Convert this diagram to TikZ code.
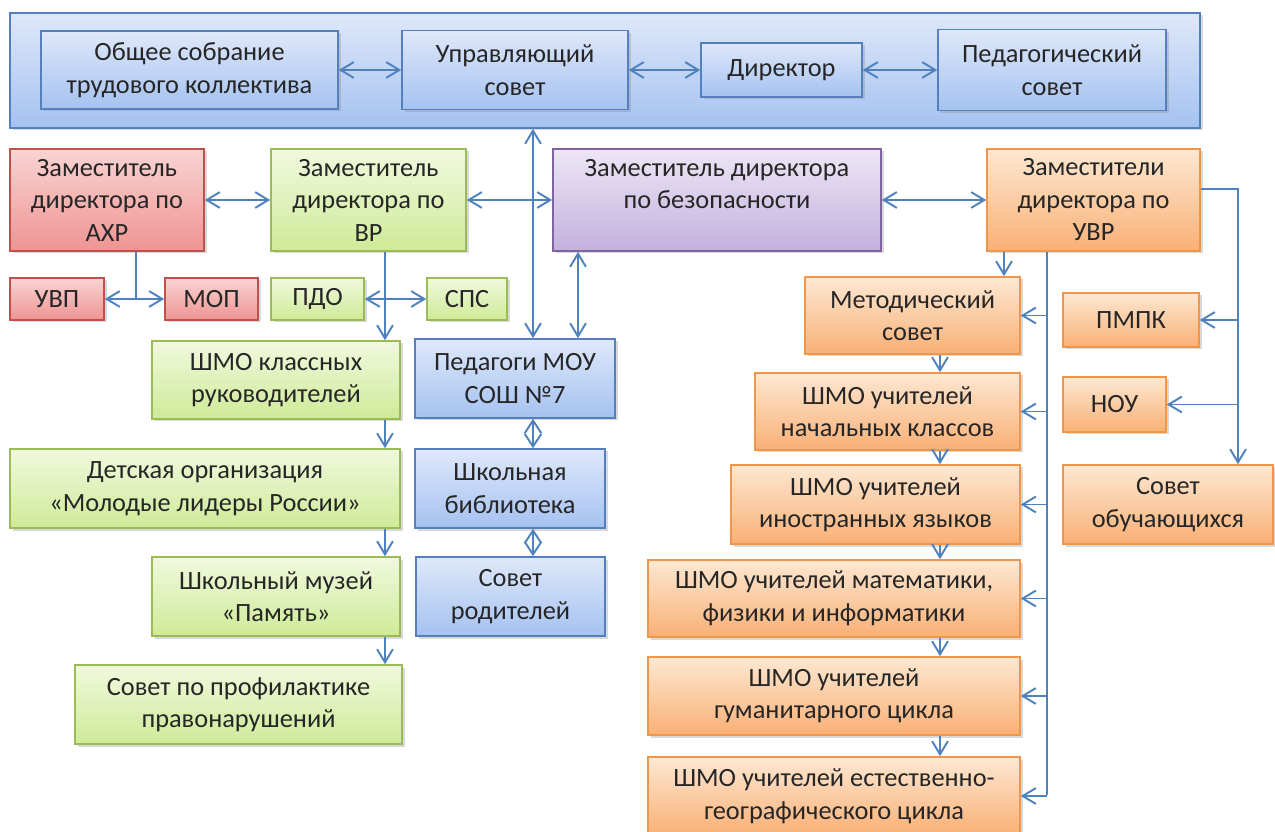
\documentclass[tikz,border=0pt]{standalone}
\usepackage{fontspec}
\setmainfont{Carlito}
\usepackage{tikz}
\usetikzlibrary{arrows.meta, positioning, shadows}
\definecolor{lineblue}{RGB}{79,129,189}
\definecolor{bluetop}{RGB}{222,232,250}
\definecolor{bluebot}{RGB}{165,194,240}
\definecolor{blueedge}{RGB}{86,127,190}
\definecolor{redtop}{RGB}{249,212,210}
\definecolor{redbot}{RGB}{238,148,146}
\definecolor{rededge}{RGB}{192,80,77}
\definecolor{greentop}{RGB}{241,249,222}
\definecolor{greenbot}{RGB}{207,234,152}
\definecolor{greenedge}{RGB}{155,187,89}
\definecolor{purpletop}{RGB}{237,230,245}
\definecolor{purplebot}{RGB}{195,177,222}
\definecolor{purpleedge}{RGB}{128,100,162}
\definecolor{orangetop}{RGB}{253,232,210}
\definecolor{orangebot}{RGB}{249,176,118}
\definecolor{orangeedge}{RGB}{240,150,75}
\tikzset{
  box/.style={rectangle, align=center, inner sep=2pt, line width=0.9pt,
    text=black!85, font=\fontsize{15}{18.5}\selectfont,
    drop shadow={shadow xshift=0.05cm, shadow yshift=-0.05cm, opacity=0.3}},
  bluebox/.style={box, draw=blueedge, top color=bluetop, bottom color=bluebot},
  redbox/.style={box, draw=rededge, top color=redtop, bottom color=redbot},
  greenbox/.style={box, draw=greenedge, top color=greentop, bottom color=greenbot},
  purplebox/.style={box, draw=purpleedge, top color=purpletop, bottom color=purplebot},
  orangebox/.style={box, draw=orangeedge, top color=orangetop, bottom color=orangebot},
  line/.style={color=lineblue, line width=1.1pt},
  arrow/.style={line, -{Straight Barb[length=7.5pt,width=9pt]}},
  biarrow/.style={line, {Straight Barb[length=7.5pt,width=9pt]}-{Straight Barb[length=7.5pt,width=9pt]}},
  diamarrow/.style={line, {Straight Barb[length=7.2pt,width=9.5pt]}-{Straight Barb[length=7.2pt,width=9.5pt]}}
}

\begin{document}
\begin{tikzpicture}
\useasboundingbox (0,0) rectangle (25.5,-16.64);

% top block
\node (verh)       [bluebox, minimum width=23.8cm, minimum height=2.3cm] at (12.1,-1.41) {};
\node (obshee)     [bluebox, minimum width=5.94cm, minimum height=1.56cm] at (3.79,-1.4) {Общее собрание\\трудового коллектива};
\node (upravsovet) [bluebox, minimum width=4.52cm, minimum height=1.58cm] at (10.3,-1.4) {Управляющий\\совет};
\node (direktor)   [bluebox, minimum width=3.22cm, minimum height=1.08cm] at (15.63,-1.4) {Директор};
\node (pedsovet)   [bluebox, minimum width=4.56cm, minimum height=1.62cm] at (21.04,-1.4) {Педагогический\\совет};

% deputies
\node (zamahr) [redbox, minimum width=3.88cm, minimum height=2.04cm] at (2.14,-4.0) {Заместитель\\директора по\\АХР};
\node (zamvr)  [greenbox, minimum width=3.9cm, minimum height=2.04cm] at (7.37,-4.0) {Заместитель\\директора по\\ВР};
\node (zambez) [purplebox, minimum width=6.56cm, minimum height=2.04cm] at (14.34,-4.0) {Заместитель директора\\по безопасности\\~};
\node (zamuvr) [orangebox, minimum width=4.26cm, minimum height=2.04cm] at (21.87,-4.0) {Заместители\\директора по\\УВР};

\node (uvp) [redbox, minimum width=1.88cm, minimum height=0.84cm] at (1.14,-5.98) {УВП};
\node (mop) [redbox, minimum width=1.86cm, minimum height=0.84cm] at (4.23,-5.98) {МОП};
\node (pdo) [greenbox, minimum width=1.86cm, minimum height=0.84cm] at (6.35,-5.98) {ПДО};
\node (sps) [greenbox, minimum width=1.6cm, minimum height=0.84cm] at (9.34,-5.98) {СПС};

% left column
\node (shmokl) [greenbox, minimum width=4.96cm, minimum height=1.56cm] at (5.52,-7.6) {ШМО классных\\руководителей};
\node (detorg) [greenbox, minimum width=7.8cm, minimum height=1.58cm] at (4.1,-9.77) {Детская организация\\«Молодые лидеры России»};
\node (muzei)  [greenbox, minimum width=4.96cm, minimum height=1.58cm] at (5.52,-11.93) {Школьный музей\\«Память»};
\node (profil) [greenbox, minimum width=6.54cm, minimum height=1.58cm] at (4.77,-14.09) {Совет по профилактике\\правонарушений};

% middle column
\node (pedagogi) [bluebox, minimum width=4.0cm, minimum height=1.58cm] at (10.3,-7.57) {Педагоги МОУ\\СОШ №7};
\node (bibl)     [bluebox, minimum width=3.8cm, minimum height=1.58cm] at (10.2,-9.77) {Школьная\\библиотека};
\node (roditeli) [bluebox, minimum width=3.78cm, minimum height=1.58cm] at (10.21,-11.93) {Совет\\родителей};

% right column
\node (metsovet) [orangebox, minimum width=4.3cm, minimum height=1.54cm] at (18.25,-6.31) {Методический\\совет};
\node (shmonach) [orangebox, minimum width=5.3cm, minimum height=1.54cm] at (17.75,-8.23) {ШМО учителей\\начальных классов};
\node (shmoin)   [orangebox, minimum width=5.78cm, minimum height=1.58cm] at (17.51,-10.09) {ШМО учителей\\иностранных языков};
\node (shmomat)  [orangebox, minimum width=7.44cm, minimum height=1.54cm] at (16.68,-11.97) {ШМО учителей математики,\\физики и информатики};
\node (shmogum)  [orangebox, minimum width=7.44cm, minimum height=1.56cm] at (16.68,-13.92) {ШМО учителей\\гуманитарного цикла};
\node (shmoest)  [orangebox, minimum width=7.44cm, minimum height=1.56cm] at (16.68,-15.92) {ШМО учителей естественно-\\географического цикла};

\node (pmpk)     [orangebox, minimum width=2.72cm, minimum height=1.08cm] at (22.62,-6.4) {ПМПК};
\node (nou)      [orangebox, minimum width=2.06cm, minimum height=1.1cm] at (22.29,-8.09) {НОУ};
\node (sovobuch) [orangebox, minimum width=4.2cm, minimum height=1.58cm] at (23.36,-10.09) {Совет\\обучающихся};

% helper lines
\coordinate (ahrline) at (2.72,-5.98);
\coordinate (vrline) at (7.7,0);
\coordinate (midline) at (10.66,0);
\coordinate (bezline) at (11.56,0);
\coordinate (chain) at (18.8,0);
\coordinate (metline) at (20.08,0);
\coordinate (spine) at (20.94,-15.9);
\coordinate (farline) at (24.76,0);

% top connectors
\draw[biarrow] (obshee) -- (upravsovet);
\draw[biarrow] (upravsovet) -- (direktor);
\draw[biarrow] (direktor) -- (pedsovet);

% deputies connectors
\draw[biarrow] (zamahr) -- (zamvr);
\draw[biarrow] (zamvr) -- (zambez);
\draw[biarrow] (zambez) -- (zamuvr);
\draw[biarrow] (verh.south -| midline) -- (pedagogi.north -| midline);
\draw[biarrow] (zambez.south -| bezline) -- (pedagogi.north -| bezline);
\draw[diamarrow] (pedagogi.south -| midline) -- (bibl.north -| midline);
\draw[diamarrow] (bibl.south -| midline) -- (roditeli.north -| midline);

\draw[line] (zamahr.south -| ahrline) -- (ahrline);
\draw[biarrow] (uvp) -- (mop);
\draw[biarrow] (pdo) -- (sps);

% left chain
\draw[arrow] (zamvr.south -| vrline) -- (shmokl.north -| vrline);
\draw[arrow] (shmokl.south -| vrline) -- (detorg.north -| vrline);
\draw[arrow] (detorg.south -| vrline) -- (muzei.north -| vrline);
\draw[arrow] (muzei.south -| vrline) -- (profil.north -| vrline);

% right chain
\draw[arrow] (zamuvr.south -| metline) -- (metsovet.north -| metline);
\draw[arrow] (metsovet.south -| chain) -- (shmonach.north -| chain);
\draw[arrow] (shmonach.south -| chain) -- (shmoin.north -| chain);
\draw[arrow] (shmoin.south -| chain) -- (shmomat.north -| chain);
\draw[arrow] (shmomat.south -| chain) -- (shmogum.north -| chain);
\draw[arrow] (shmogum.south -| chain) -- (shmoest.north -| chain);

\draw[line] (zamuvr.south -| spine) -- (spine);
\draw[arrow] (spine |- metsovet.east) -- (metsovet.east);
\draw[arrow] (spine |- shmonach.east) -- (shmonach.east);
\draw[arrow] (spine |- shmoin.east) -- (shmoin.east);
\draw[arrow] (spine |- shmomat.east) -- (shmomat.east);
\draw[arrow] (spine |- shmogum.east) -- (shmogum.east);
\draw[arrow] (spine |- shmoest.east) -- (shmoest.east);

\draw[arrow] ([yshift=0.22cm]zamuvr.east) -| (farline |- sovobuch.north);
\draw[arrow] (farline |- pmpk.east) -- (pmpk.east);
\draw[arrow] (farline |- nou.east) -- (nou.east);
\end{tikzpicture}
\end{document}
